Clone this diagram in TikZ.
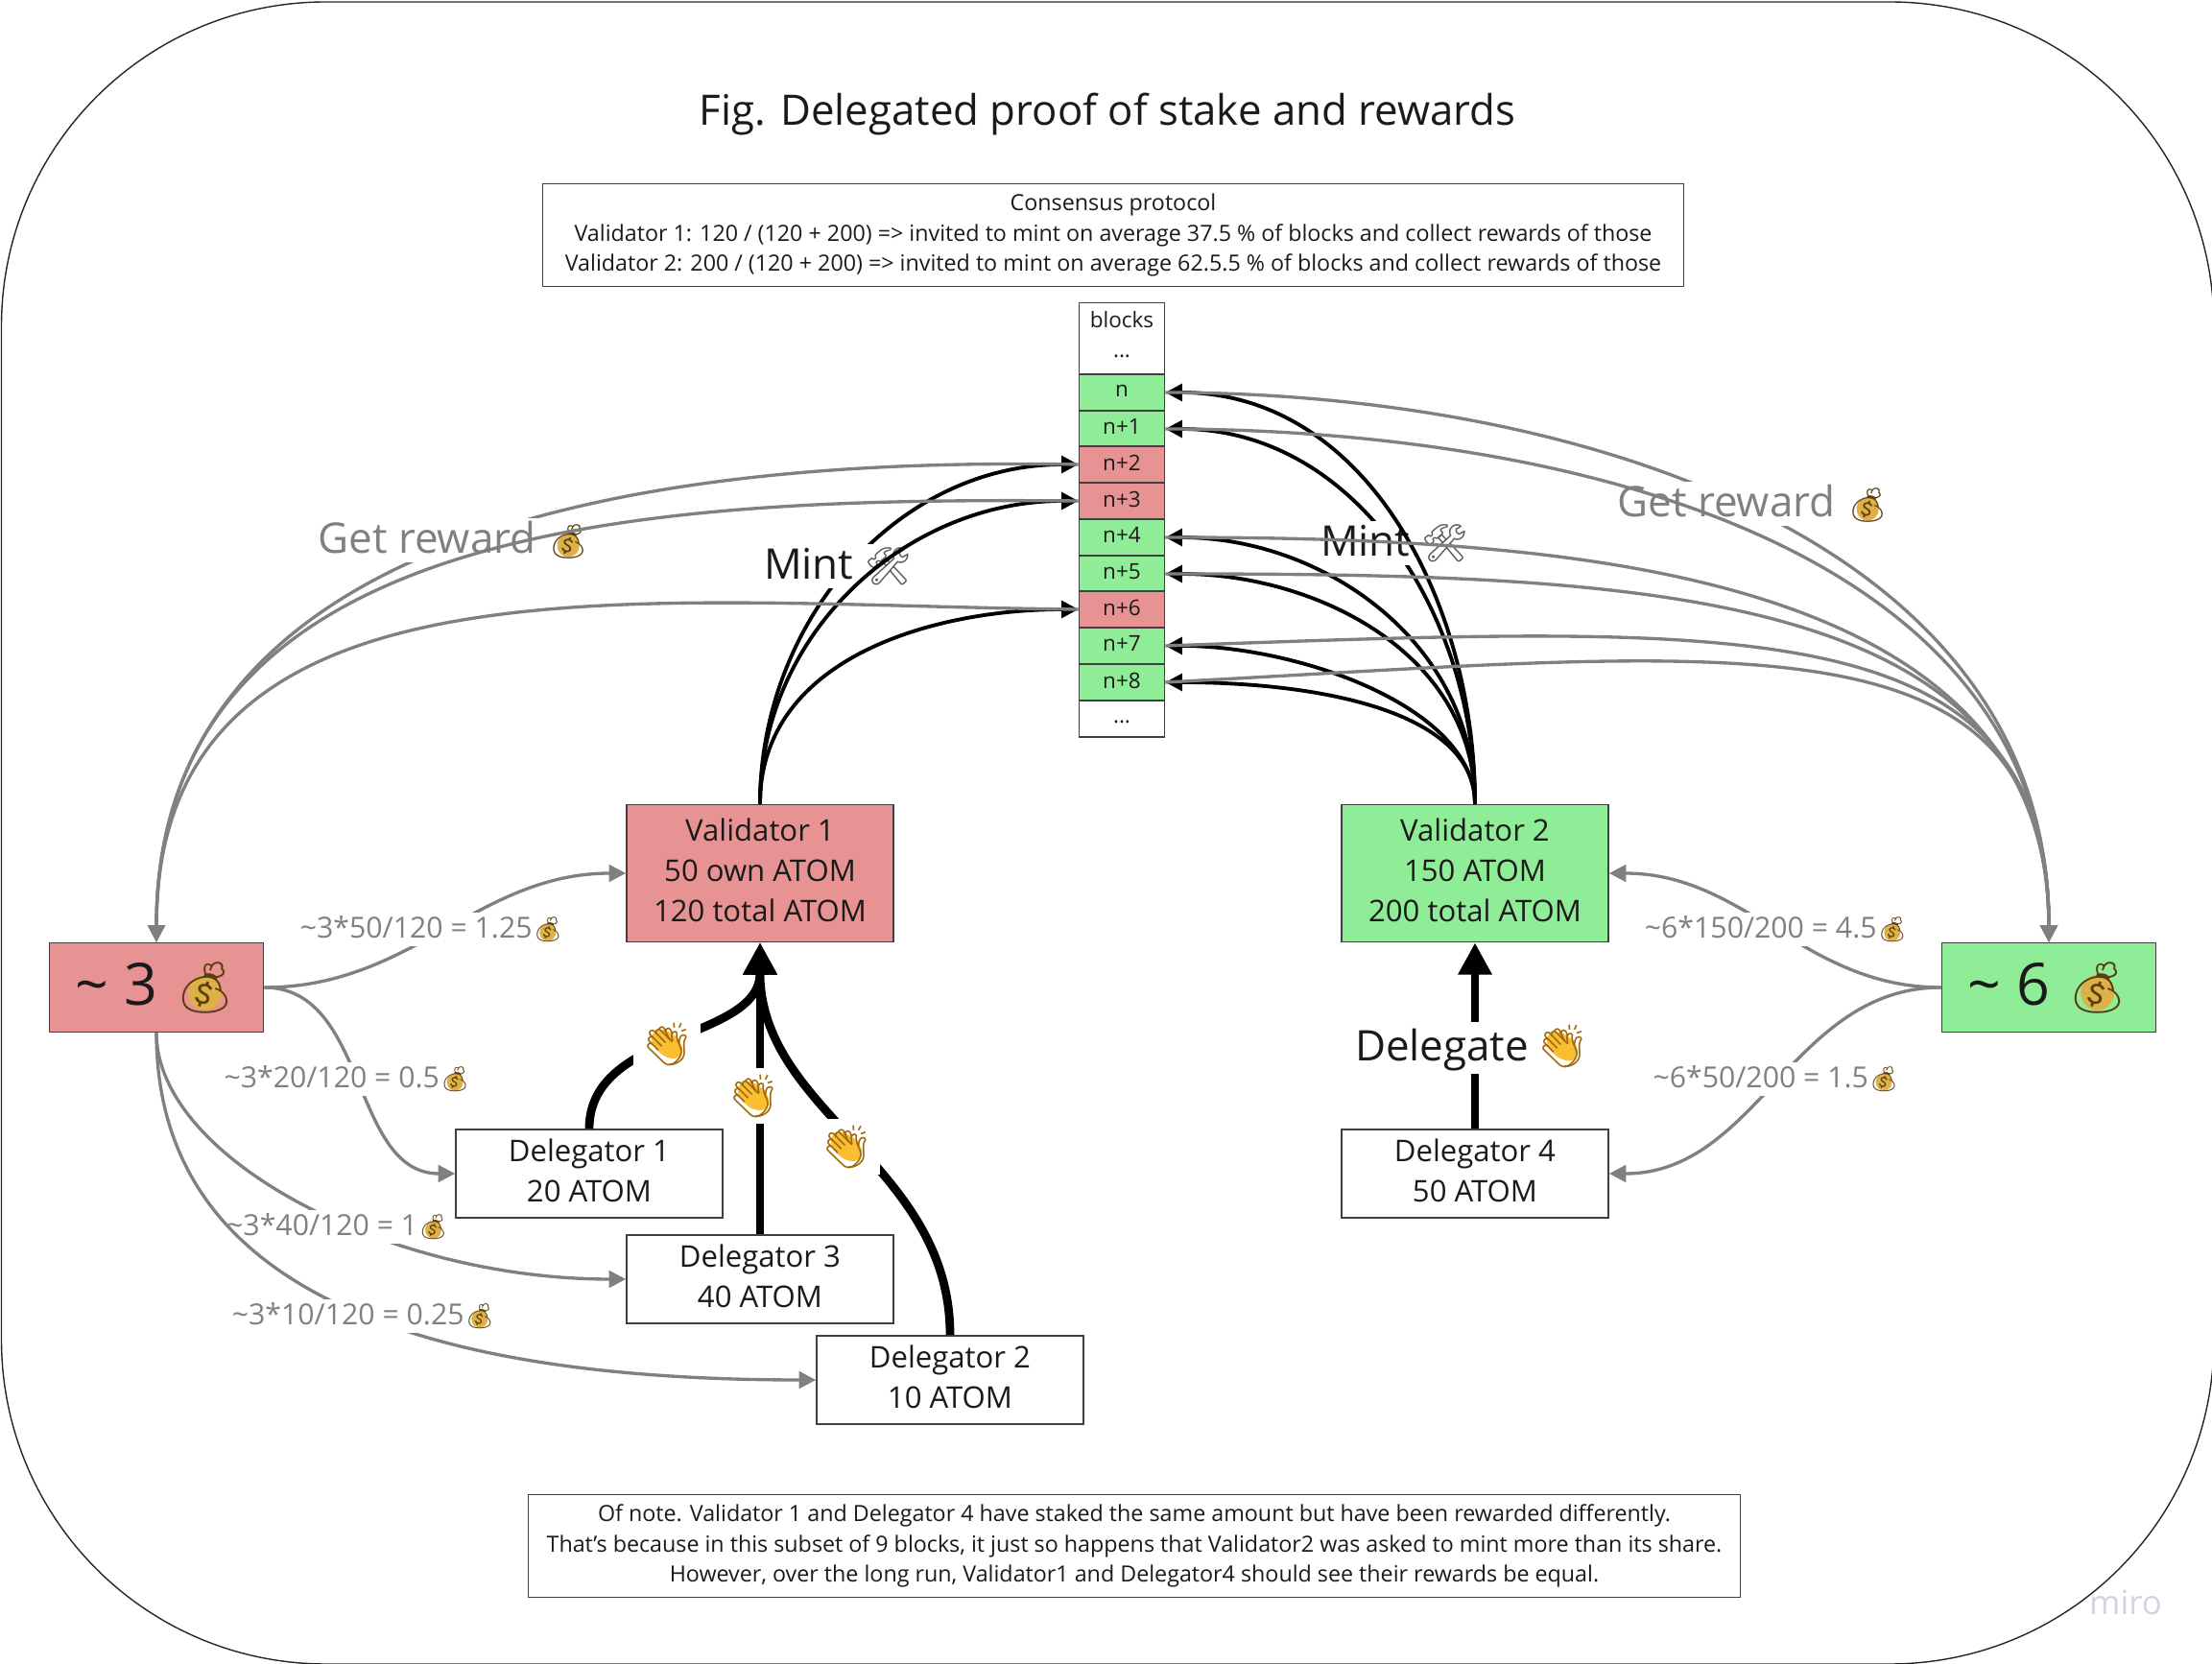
\documentclass[tikz,border=0pt]{standalone}
\usepackage{fontspec}
\setmainfont{Open Sans}
\newfontfamily\emojifont{Noto Emoji}
\usetikzlibrary{arrows.meta}
\definecolor{stakered}{RGB}{232,147,147}
\definecolor{stakegreen}{RGB}{143,236,151}
\definecolor{rewardgray}{RGB}{128,128,128}
\definecolor{inkdark}{RGB}{26,26,26}
\definecolor{edgedark}{RGB}{64,64,64}
\definecolor{bagfill}{RGB}{222,176,72}
\definecolor{bagink}{RGB}{90,62,15}
\definecolor{clapfill}{RGB}{250,190,50}
\definecolor{clapink}{RGB}{160,105,10}
\definecolor{toolgray}{RGB}{90,90,95}
\definecolor{miromark}{RGB}{212,212,224}
\tikzset{glyphonly/.style ={draw=none, fill=none, inner sep=0pt, outer sep=0pt, minimum width=0pt, minimum height=0pt}}
\newcommand{\bagicon}[1]{\tikz[baseline=(bagglyph.base)]{
   \fill[bagfill] (0,{-0.1*#1 pt}) ellipse ({0.33*#1 pt} and {0.35*#1 pt});
   \node[glyphonly] (bagglyph) at (0,0) {\fontsize{#1}{#1}\selectfont\emojifont\textcolor{bagink}{💰}};}}
\newcommand{\clapicon}[1]{\tikz[baseline=(clapglyph.base)]{
   \fill[clapfill, rotate=-40] (0,0) ellipse ({0.42*#1 pt} and {0.27*#1 pt});
   \node[glyphonly] (clapglyph) at (0,0) {\fontsize{#1}{#1}\selectfont\emojifont\textcolor{clapink}{👏}};}}
\newcommand{\toolicon}{{\fontsize{11}{14}\selectfont\emojifont\textcolor{toolgray}{🛠}}}

\begin{document}
\begin{tikzpicture}[
    boxbase/.style ={draw=edgedark, line width=0.45pt, text=inkdark, align=center, inner sep=0pt},
    stake/.style ={boxbase, minimum width=2.78cm, minimum height=1.43cm, text depth=1.7pt, font=\fontsize{8.85}{11.9}\selectfont},
    delegator/.style ={boxbase, fill=white, minimum width=2.78cm, minimum height=0.92cm, text depth=1.7pt, font=\fontsize{8.85}{11.9}\selectfont},
    pot/.style ={boxbase, minimum width=2.23cm, minimum height=0.93cm, font=\fontsize{17.3}{20}\selectfont},
    infobox/.style ={boxbase, fill=white, minimum height=1.07cm, font=\fontsize{6.62}{9}\selectfont},
    cell/.style ={boxbase, minimum width=0.89cm, minimum height=0.377cm, text depth=1.2pt, font=\fontsize{6.4}{8}\selectfont},
    biglabel/.style ={fill=white, inner sep=1pt, text=inkdark, font=\fontsize{12.5}{14}\selectfont},
    graylabel/.style ={fill=white, inner sep=1pt, text=rewardgray, font=\fontsize{8.6}{10}\selectfont},
    mintline/.style ={black, line width=1.1pt, -{Triangle[length=5pt,width=5pt]}},
    rewardline/.style ={rewardgray, line width=0.95pt, -{Triangle[length=5pt,width=5pt]}},
    delegateline/.style ={black, line width=2.5pt, -{Triangle[length=9.5pt,width=9.5pt]}}]
   \useasboundingbox (0,0) rectangle (23.05,17.34);
   \draw[black!85, line width=0.4pt, rounded corners=3.38cm] (0.015,0) rectangle (23.07,17.32);

   \node[inner sep=0pt, text=inkdark, font=\fontsize{12.45}{16}\selectfont] (title) at (11.54,16.15) {Fig. Delegated proof of stake and rewards};
   \node[infobox, minimum width=11.89cm] (consensus) at (11.6,14.89) {Consensus protocol\\Validator 1: 120 / (120 + 200) => invited to mint on average 37.5 \% of blocks and collect rewards of those\\Validator 2: 200 / (120 + 200) => invited to mint on average 62.5.5 \% of blocks and collect rewards of those};
   \node[infobox, minimum width=12.63cm] (note) at (11.82,1.23) {Of note. Validator 1 and Delegator 4 have staked the same amount but have been rewarded differently.\\That's because in this subset of 9 blocks, it just so happens that Validator2 was asked to mint more than its share.\\However, over the long run, Validator1 and Delegator4 should see their rewards be equal.};

   % block column
   \node[cell, fill=white, minimum height=0.75cm, text depth=2.5pt, font=\fontsize{6.4}{8.8}\selectfont] (blkhead) at (11.69,13.81) {blocks\\...};
   \node[cell, fill=stakegreen] (blk0) at (11.69,13.25) {n};
   \node[cell, fill=stakegreen] (blk1) at (11.69,12.87) {n+1};
   \node[cell, fill=stakered] (blk2) at (11.69,12.50) {n+2};
   \node[cell, fill=stakered] (blk3) at (11.69,12.12) {n+3};
   \node[cell, fill=stakegreen] (blk4) at (11.69,11.74) {n+4};
   \node[cell, fill=stakegreen] (blk5) at (11.69,11.36) {n+5};
   \node[cell, fill=stakered] (blk6) at (11.69,10.99) {n+6};
   \node[cell, fill=stakegreen] (blk7) at (11.69,10.61) {n+7};
   \node[cell, fill=stakegreen] (blk8) at (11.69,10.23) {n+8};
   \node[cell, fill=white, text depth=0pt, text height=2.7pt] (blkend) at (11.69,9.85) {...};

   \node[stake, fill=stakered] (val1) at (7.92,8.24) {Validator 1\\50 own ATOM\\120 total ATOM};
   \node[stake, fill=stakegreen] (val2) at (15.37,8.24) {Validator 2\\150 ATOM\\200 total ATOM};
   \node[pot, fill=stakered] (pot3) at (1.63,7.05) {\textasciitilde{} 3 \bagicon{15}};
   \node[pot, fill=stakegreen] (pot6) at (21.35,7.05) {\textasciitilde{} 6 \bagicon{15}};
   \node[delegator] (del1) at (6.14,5.11) {Delegator 1\\20 ATOM};
   \node[delegator] (del3) at (7.92,4.01) {Delegator 3\\40 ATOM};
   \node[delegator] (del2) at (9.90,2.96) {Delegator 2\\10 ATOM};
   \node[delegator] (del4) at (15.37,5.11) {Delegator 4\\50 ATOM};

   % minting
   \draw[mintline] (val1.north) to[out=90,in=180] (blk2.west);
   \draw[mintline] (val1.north) to[out=90,in=180] (blk6.west);
   \node[biglabel] (mintleft) at (8.73,11.44) {Mint \toolicon};
   \draw[mintline] (val1.north) to[out=90,in=180] (blk3.west);
   \draw[mintline] (val2.north) to[out=90,in=0] (blk1.east);
   \draw[mintline] (val2.north) to[out=90,in=0] (blk4.east);
   \draw[mintline] (val2.north) to[out=90,in=0] (blk5.east);
   \draw[mintline] (val2.north) to[out=90,in=0, out distance=1cm, in distance=1.4cm] (blk7.east);
   \draw[mintline] (val2.north) to[out=90,in=0, out distance=1cm, in distance=1.5cm] (blk8.east);
   \node[biglabel] (mintright) at (14.53,11.68) {Mint \toolicon};
   \draw[mintline] (val2.north) to[out=90,in=0] (blk0.east);

   % rewards from the blocks
   \draw[rewardline] (blk2.west) to[out=179,in=90, out distance=4cm, in distance=4.5cm] (pot3.north);
   \draw[rewardline] (blk6.west) to[out=179.5,in=90, out distance=4.5cm, in distance=4.2cm] (pot3.north);
   \node[graylabel, font=\fontsize{12.5}{14}\selectfont] (getleft) at (4.73,11.71) {Get reward \bagicon{10}};
   \draw[rewardline] (blk3.west) to[out=179.5,in=90, out distance=4.5cm, in distance=4.4cm] (pot3.north);
   \draw[rewardline] (blk0.east) to[out=0,in=90] (pot6.north);
   \node[graylabel, font=\fontsize{12.5}{14}\selectfont] (getright) at (18.27,12.09) {Get reward \bagicon{10}};
   \draw[rewardline] (blk1.east) to[out=0,in=90] (pot6.north);
   \draw[rewardline] (blk4.east) to[out=0,in=90] (pot6.north);
   \draw[rewardline] (blk5.east) to[out=0,in=90, out distance=5cm, in distance=3.7cm] (pot6.north);
   \draw[rewardline] (blk7.east) to[out=2,in=90, out distance=6cm, in distance=3.5cm] (pot6.north);
   \draw[rewardline] (blk8.east) to[out=3,in=90, out distance=6cm, in distance=3.5cm] (pot6.north);

   % payouts
   \draw[rewardline] (pot3.east) to[out=0,in=180] (val1.west);
   \draw[rewardline] (pot3.east) to[out=0,in=180] (del1.west);
   \draw[rewardline] (pot3.south) to[out=-90,in=180, out distance=1.3cm, in distance=2.5cm] (del3.west);
   \node[graylabel] (pay3b) at (3.52,4.555) {\textasciitilde{}3*40/120 = 1\bagicon{7.3}};
   \draw[rewardline] (pot3.south) to[out=-90,in=180, out distance=2.5cm, in distance=4.5cm] (del2.west);
   \draw[rewardline] (pot6.west) to[out=180,in=0] (val2.east);
   \draw[rewardline] (pot6.west) to[out=180,in=0] (del4.east);
   \node[graylabel] (pay1) at (4.50,7.655) {\textasciitilde{}3*50/120 = 1.25\bagicon{7.3}};
   \node[graylabel] (pay3a) at (3.62,6.095) {\textasciitilde{}3*20/120 = 0.5\bagicon{7.3}};
   \node[graylabel] (pay3c) at (3.79,3.625) {\textasciitilde{}3*10/120 = 0.25\bagicon{7.3}};
   \node[graylabel] (pay6a) at (18.51,7.655) {\textasciitilde{}6*150/200 = 4.5\bagicon{7.3}};
   \node[graylabel] (pay6b) at (18.51,6.095) {\textasciitilde{}6*50/200 = 1.5\bagicon{7.3}};

   % delegation
   \draw[delegateline] (del1.north) to[out=90,in=-90] (val1.south);
   \draw[delegateline] (del3.north) to (val1.south);
   \draw[delegateline] (del2.north) to[out=90,in=-90] (val1.south);
   \draw[delegateline] (del4.north) to (val2.south);
   \node[fill=white, inner sep=2pt] (clap1) at (6.95,6.46) {\clapicon{12.5}};
   \node[fill=white, inner sep=2pt] (clap3) at (7.85,5.92) {\clapicon{12.5}};
   \node[fill=white, inner sep=2pt] (clap2) at (8.82,5.39) {\clapicon{12.5}};
   \node[biglabel] (delegatelabel) at (15.34,6.42) {Delegate\hspace{2pt}\clapicon{12.5}};

   \node[inner sep=0pt, text=miromark, font=\fontsize{9.9}{11}\selectfont] (miro) at (22.15,0.64) {miro};
\end{tikzpicture}
\end{document}
